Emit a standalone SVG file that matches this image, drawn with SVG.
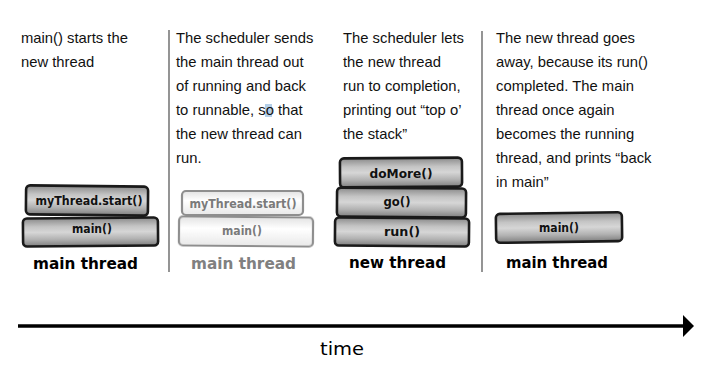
<svg xmlns="http://www.w3.org/2000/svg" width="721" height="391" viewBox="0 0 721 391">
  <style>
    .body { font-family: "Liberation Sans", Arial, sans-serif; font-size: 14.8px; fill: #111; }
    .frame { font-family: "DejaVu Sans", sans-serif; font-weight: bold; font-size: 12.5px; fill: #111; text-anchor: middle; }
    .frame.faded { fill: #7a7a7a; }
    .title { font-family: "DejaVu Sans", sans-serif; font-weight: bold; font-size: 15.5px; fill: #000; }
    .title.faded { fill: #808080; }
    .box { fill: url(#slab); stroke: #1a1a1a; stroke-width: 2.6; }
    .box.faded { fill: url(#slabFaded); stroke: #8e8e8e; stroke-width: 2.2; filter: url(#soft); }
    .divider { stroke: #7a7a7a; stroke-width: 1.6; }
  </style>
  <defs>
    <linearGradient id="slab" x1="0" y1="0" x2="0" y2="1">
      <stop offset="0" stop-color="#8a8a8a"/>
      <stop offset="0.3" stop-color="#c4c4c4"/>
      <stop offset="0.5" stop-color="#d6d6d6"/>
      <stop offset="0.75" stop-color="#b2b2b2"/>
      <stop offset="1" stop-color="#7e7e7e"/>
    </linearGradient>
    <linearGradient id="slabFaded" x1="0" y1="0" x2="0" y2="1">
      <stop offset="0" stop-color="#e2e2e2"/>
      <stop offset="0.4" stop-color="#ffffff"/>
      <stop offset="1" stop-color="#e8e8e8"/>
    </linearGradient>
    <filter id="soft" x="-5%" y="-20%" width="110%" height="140%">
      <feGaussianBlur stdDeviation="0.7"/>
    </filter>
    <marker id="head" markerWidth="12" markerHeight="22" refX="1" refY="11" orient="auto" markerUnits="userSpaceOnUse">
      <path d="M1,0 L12,11 L1,22 Z" fill="#000"/>
    </marker>
  </defs>

  <rect width="721" height="391" fill="#fff"/>

  <!-- column dividers -->
  <g id="dividers">
    <line class="divider" x1="169" y1="30" x2="169" y2="272"/>
    <line class="divider" x1="482" y1="31" x2="482" y2="272"/>
  </g>

  <!-- step 1: main thread starts the new one -->
  <g id="step1">
    <text class="body" x="21" y="43">main() starts the</text>
    <text class="body" x="21" y="67">new thread</text>
    <g id="step1-start">
      <rect class="box" x="26" y="186" width="122" height="29" rx="4" transform="rotate(0.6 87 200)"/>
      <text class="frame" x="89" y="205" textLength="107" lengthAdjust="spacingAndGlyphs">myThread.start()</text>
    </g>
    <g id="step1-main">
      <rect class="box" x="23" y="218" width="135" height="28" rx="4" transform="rotate(-0.5 90 232)"/>
      <text class="frame" x="92" y="233" textLength="40" lengthAdjust="spacingAndGlyphs">main()</text>
    </g>
    <text class="title" x="33" y="269" textLength="105" lengthAdjust="spacingAndGlyphs">main thread</text>
  </g>

  <!-- step 2: main thread goes back to runnable -->
  <g id="step2">
    <rect x="265" y="104" width="7" height="13" fill="#b4cfe8"/>
    <text class="body" x="176" y="43">The scheduler sends</text>
    <text class="body" x="176" y="67">the main thread out</text>
    <text class="body" x="176" y="91">of running and back</text>
    <text class="body" x="176" y="115">to runnable, so that</text>
    <text class="body" x="176" y="139">the new thread can</text>
    <text class="body" x="176" y="163">run.</text>
    <g id="step2-start">
      <rect class="box faded" x="182" y="191" width="121" height="24" rx="4"/>
      <text class="frame faded" x="243" y="208" textLength="107" lengthAdjust="spacingAndGlyphs">myThread.start()</text>
    </g>
    <g id="step2-main">
      <rect class="box faded" x="179" y="217" width="134" height="29" rx="4" transform="rotate(0.5 246 231)"/>
      <text class="frame faded" x="242" y="235" textLength="40" lengthAdjust="spacingAndGlyphs">main()</text>
    </g>
    <text class="title faded" x="191" y="269" textLength="105" lengthAdjust="spacingAndGlyphs">main thread</text>
  </g>

  <!-- step 3: new thread runs -->
  <g id="step3">
    <text class="body" x="343" y="43">The scheduler lets</text>
    <text class="body" x="343" y="67">the new thread</text>
    <text class="body" x="343" y="91">run to completion,</text>
    <text class="body" x="343" y="115">printing out “top o’</text>
    <text class="body" x="343" y="139">the stack”</text>
    <g id="step3-doMore">
      <rect class="box" x="340" y="158" width="122" height="29" rx="4" transform="rotate(-0.4 401 172)"/>
      <text class="frame" x="401" y="178" textLength="63" lengthAdjust="spacingAndGlyphs">doMore()</text>
    </g>
    <g id="step3-go">
      <rect class="box" x="337" y="188" width="129" height="29" rx="4" transform="rotate(0.4 401 202)"/>
      <text class="frame" x="397" y="206" textLength="27" lengthAdjust="spacingAndGlyphs">go()</text>
    </g>
    <g id="step3-run">
      <rect class="box" x="335" y="218" width="134" height="28" rx="4" transform="rotate(0.5 402 232)"/>
      <text class="frame" x="402" y="236" textLength="36" lengthAdjust="spacingAndGlyphs">run()</text>
    </g>
    <text class="title" x="349" y="268" textLength="97" lengthAdjust="spacingAndGlyphs">new thread</text>
  </g>

  <!-- step 4: back in main -->
  <g id="step4">
    <text class="body" x="496" y="43">The new thread goes</text>
    <text class="body" x="496" y="67">away, because its run()</text>
    <text class="body" x="496" y="91">completed. The main</text>
    <text class="body" x="496" y="115">thread once again</text>
    <text class="body" x="496" y="139">becomes the running</text>
    <text class="body" x="496" y="163">thread, and prints “back</text>
    <text class="body" x="496" y="187">in main”</text>
    <g id="step4-main">
      <rect class="box" x="496" y="213" width="126" height="29" rx="4" transform="rotate(-0.8 559 227)"/>
      <text class="frame" x="559" y="232" textLength="40" lengthAdjust="spacingAndGlyphs">main()</text>
    </g>
    <text class="title" x="506" y="268" textLength="102" lengthAdjust="spacingAndGlyphs">main thread</text>
  </g>

  <!-- time axis -->
  <g id="connectors">
    <line x1="18" y1="326" x2="683" y2="326" stroke="#000" stroke-width="3.6" marker-end="url(#head)"/>
  </g>
  <g id="time-label">
    <text x="320" y="355" font-family="DejaVu Sans, sans-serif" font-size="18" fill="#000" textLength="44" lengthAdjust="spacingAndGlyphs">time</text>
  </g>
</svg>
